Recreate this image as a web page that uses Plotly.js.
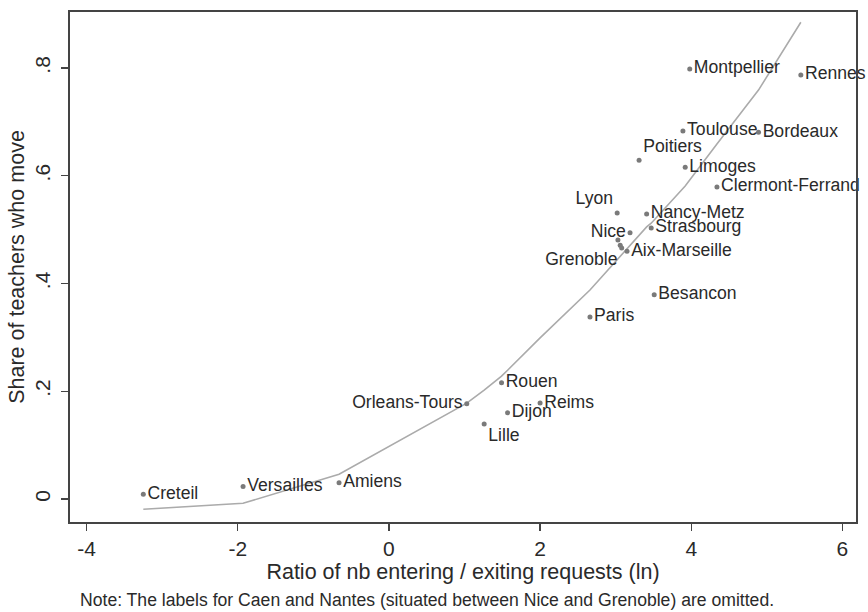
<!DOCTYPE html>
<html>
<head>
<meta charset="utf-8">
<script src="https://cdn.plot.ly/plotly-3.0.1.min.js"></script>
<style>
  html, body { margin: 0; padding: 0; background: #ffffff; }
  #chart { width: 868px; height: 612px; }
</style>
</head>
<body>
<div id="chart"></div>
<script>
// Academies (sorted by ratio)
const regions = ["Creteil","Versailles","Amiens","Orleans-Tours","Lille","Rouen","Dijon","Reims","Paris","Lyon","Caen","Nantes","Grenoble","Aix-Marseille","Nice","Poitiers","Nancy-Metz","Strasbourg","Besancon","Toulouse","Limoges","Montpellier","Clermont-Ferrand","Bordeaux","Rennes"];
// Ratio of nb entering / exiting requests (ln)
const ratioLn = [-3.25,-1.93,-0.66,1.03,1.26,1.49,1.57,2.00,2.66,3.02,3.03,3.06,3.08,3.15,3.19,3.31,3.41,3.47,3.51,3.89,3.92,3.98,4.34,4.89,5.45];
// Share of teachers who move
const shareMove = [0.009,0.023,0.030,0.177,0.139,0.216,0.160,0.178,0.338,0.531,0.481,0.471,0.466,0.460,0.494,0.629,0.529,0.503,0.379,0.683,0.616,0.798,0.579,0.681,0.787];
// Fitted (smoothed) values at each ratio
const fitted = [-0.019,-0.008,0.046,0.178,0.202,0.228,0.239,0.299,0.388,0.444,0.446,0.449,0.453,0.464,0.470,0.488,0.505,0.512,0.518,0.577,0.581,0.592,0.659,0.759,0.885];
// Point labels (Caen and Nantes omitted)
const pointLabels = ["Creteil","Versailles","Amiens","Orleans-Tours","Lille","Rouen","Dijon","Reims","Paris","Lyon","","","Grenoble","Aix-Marseille","Nice","Poitiers","Nancy-Metz","Strasbourg","Besancon","Toulouse","Limoges","Montpellier","Clermont-Ferrand","Bordeaux","Rennes"];
const labelPos = ["middle right","middle right","middle right","middle left","bottom right","middle right","middle right","middle right","middle right","top left","middle right","middle right","bottom left","middle right","middle left","top right","middle right","middle right","middle right","middle right","middle right","middle right","middle right","middle right","middle right"];
// Axis ticks
const xTicks = [-4,-2,0,2,4,6];
const xTickText = ["-4","-2","0","2","4","6"];
const yTicks = [0,0.2,0.4,0.6,0.8];
const yTickText = ["0",".2",".4",".6",".8"];

const FONT = "Liberation Sans, Arial, Helvetica, sans-serif";

const traces = [
  {
    type: "scatter", mode: "lines",
    x: ratioLn, y: fitted,
    line: { color: "#ababab", width: 1.6 },
    hoverinfo: "skip", showlegend: false
  },
  {
    type: "scatter", mode: "markers+text",
    x: ratioLn, y: shareMove,
    text: pointLabels, textposition: labelPos,
    textfont: { family: FONT, size: 17.6, color: "#2a2a2a" },
    marker: { color: "#7a7a7a", size: 5 },
    cliponaxis: false, showlegend: false,
    hovertext: regions, hoverinfo: "text"
  }
];

const layout = {
  width: 868, height: 612,
  margin: { l: 70, r: 12, t: 12, b: 90 },
  paper_bgcolor: "#ffffff", plot_bgcolor: "#ffffff",
  font: { family: FONT, color: "#2a2a2a", size: 21 },
  showlegend: false,
  xaxis: {
    range: [-4.22, 6.18],
    tickvals: xTicks, ticktext: xTickText,
    ticks: "outside", ticklen: 7, tickwidth: 1.3, tickcolor: "#444",
    showline: true, linecolor: "#444", linewidth: 1.6, mirror: true,
    showgrid: false, zeroline: false,
    tickfont: { family: FONT, size: 21, color: "#2a2a2a" },
    title: { text: "Ratio of nb entering / exiting requests (ln)", font: { family: FONT, size: 21.5, color: "#2a2a2a" }, standoff: 2 }
  },
  yaxis: {
    range: [-0.0427, 0.904],
    tickvals: yTicks, ticktext: yTickText,
    tickangle: -90,
    ticks: "outside", ticklen: 7, tickwidth: 1.3, tickcolor: "#444",
    showline: true, linecolor: "#444", linewidth: 1.6, mirror: true,
    showgrid: false, zeroline: false,
    ticklabelstandoff: 3,
    tickfont: { family: FONT, size: 21, color: "#2a2a2a" },
    title: { text: "Share of teachers who move", font: { family: FONT, size: 21.5, color: "#2a2a2a" }, standoff: 0 }
  },
  annotations: [
    {
      text: "Note: The labels for Caen and Nantes (situated between Nice and Grenoble) are omitted.",
      xref: "paper", yref: "paper", x: 0.0102, y: -0.152,
      xanchor: "left", yanchor: "middle", showarrow: false,
      font: { family: FONT, size: 17.6, color: "#2a2a2a" }
    }
  ]
};

Plotly.newPlot("chart", traces, layout, { displayModeBar: false, staticPlot: true });
</script>
</body>
</html>
